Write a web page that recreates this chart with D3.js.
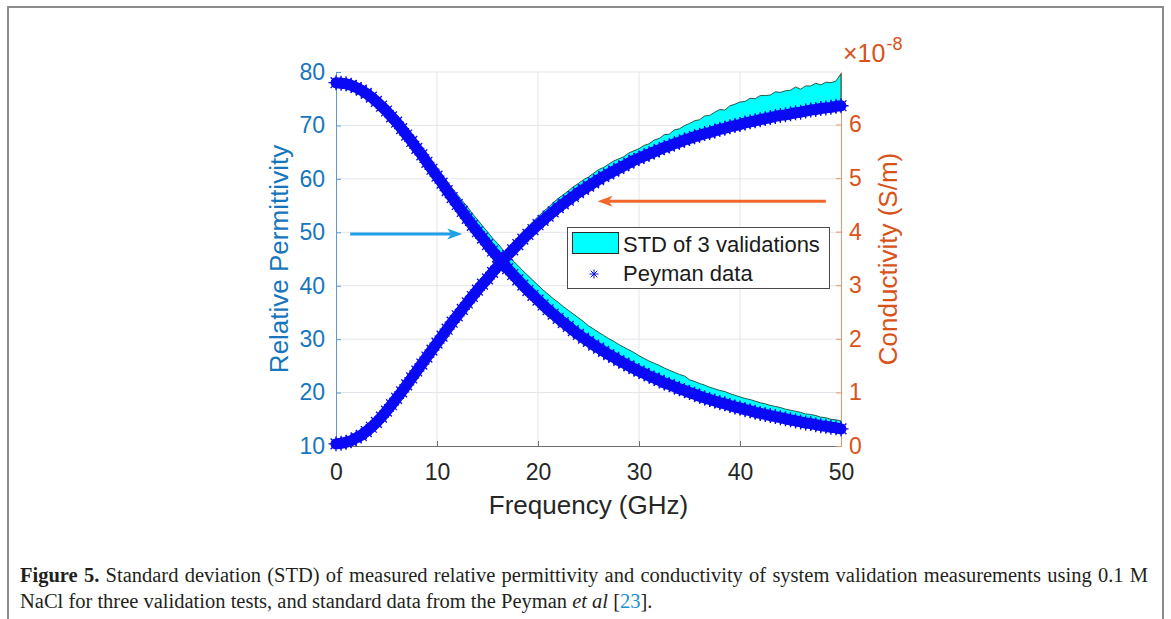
<!DOCTYPE html>
<html>
<head>
<meta charset="utf-8">
<script src="https://cdn.jsdelivr.net/npm/d3@7"></script>
<style>
  body { margin: 0; background: #fff; }
  svg { display: block; font-family: "Liberation Sans", Arial, Helvetica, sans-serif; }
</style>
</head>
<body>
<svg id="chart" width="1171" height="619"></svg>
<script>
// frequency grid (GHz)
const freq = [
  0, 0.5, 1, 1.5, 2, 2.5, 3, 3.5, 4, 4.5,
  5, 5.5, 6, 6.5, 7, 7.5, 8, 8.5, 9, 9.5,
  10, 10.5, 11, 11.5, 12, 12.5, 13, 13.5, 14, 14.5,
  15, 15.5, 16, 16.5, 17, 17.5, 18, 18.5, 19, 19.5,
  20, 20.5, 21, 21.5, 22, 22.5, 23, 23.5, 24, 24.5,
  25, 25.5, 26, 26.5, 27, 27.5, 28, 28.5, 29, 29.5,
  30, 30.5, 31, 31.5, 32, 32.5, 33, 33.5, 34, 34.5,
  35, 35.5, 36, 36.5, 37, 37.5, 38, 38.5, 39, 39.5,
  40, 40.5, 41, 41.5, 42, 42.5, 43, 43.5, 44, 44.5,
  45, 45.5, 46, 46.5, 47, 47.5, 48, 48.5, 49, 49.5,
  50
];

// Peyman data - relative permittivity (left axis)
const permPeyman = [
  78.0, 77.9, 77.8, 77.5, 77.1, 76.6, 76.0, 75.3, 74.5, 73.6,
  72.7, 71.6, 70.6, 69.4, 68.2, 67.0, 65.7, 64.5, 63.1, 61.8,
  60.5, 59.2, 57.8, 56.5, 55.2, 53.9, 52.6, 51.3, 50.1, 48.9,
  47.7, 46.5, 45.4, 44.3, 43.2, 42.1, 41.1, 40.1, 39.1, 38.2,
  37.3, 36.4, 35.5, 34.7, 33.9, 33.1, 32.4, 31.6, 30.9, 30.2,
  29.6, 28.9, 28.3, 27.7, 27.1, 26.6, 26.0, 25.5, 25.0, 24.5,
  24.0, 23.6, 23.1, 22.7, 22.3, 21.8, 21.5, 21.1, 20.7, 20.4,
  20.0, 19.7, 19.3, 19.0, 18.7, 18.4, 18.1, 17.9, 17.6, 17.3,
  17.1, 16.8, 16.6, 16.3, 16.1, 15.9, 15.7, 15.5, 15.3, 15.1,
  14.9, 14.7, 14.5, 14.3, 14.2, 14.0, 13.8, 13.7, 13.5, 13.4,
  13.2
];

// STD band of 3 validations - permittivity
const permStdLow = [
  77.6, 77.5, 77.4, 77.1, 76.7, 76.2, 75.6, 74.9, 74.1, 73.2,
  72.3, 71.2, 70.2, 69.0, 67.8, 66.6, 65.3, 64.1, 62.7, 61.4,
  60.1, 58.8, 57.4, 56.1, 54.8, 53.5, 52.2, 50.9, 49.7, 48.5,
  47.3, 46.1, 45.0, 43.9, 42.8, 41.7, 40.7, 39.7, 38.7, 37.8,
  36.9, 36.0, 35.1, 34.3, 33.5, 32.7, 32.0, 31.2, 30.5, 29.8,
  29.2, 28.5, 27.9, 27.3, 26.7, 26.2, 25.6, 25.1, 24.6, 24.1,
  23.6, 23.2, 22.7, 22.3, 21.9, 21.4, 21.1, 20.7, 20.3, 20.0,
  19.6, 19.3, 18.9, 18.6, 18.3, 18.0, 17.7, 17.5, 17.2, 16.9,
  16.7, 16.4, 16.2, 15.9, 15.7, 15.5, 15.3, 15.1, 14.9, 14.7,
  14.5, 14.3, 14.1, 13.9, 13.8, 13.6, 13.4, 13.3, 13.1, 13.0,
  12.8
];
const permStdHigh = [
  78.3, 78.2, 78.0, 77.7, 77.3, 76.8, 76.3, 75.6, 74.9, 74.0,
  73.2, 72.1, 71.2, 70.0, 68.9, 67.8, 66.6, 65.4, 64.1, 62.9,
  61.9, 60.8, 59.5, 58.3, 57.1, 55.9, 54.8, 53.5, 52.4, 51.2,
  50.1, 48.9, 47.9, 46.8, 45.8, 44.7, 43.8, 42.8, 41.9, 41.0,
  40.1, 39.2, 38.4, 37.6, 36.9, 36.1, 35.4, 34.7, 34.0, 33.3,
  32.5, 31.9, 31.3, 30.7, 30.1, 29.6, 29.0, 28.5, 28.0, 27.5,
  26.9, 26.4, 25.9, 25.5, 25.1, 24.6, 24.2, 23.8, 23.4, 23.1,
  22.4, 22.1, 21.7, 21.4, 21.0, 20.7, 20.4, 20.2, 19.8, 19.5,
  19.2, 18.9, 18.7, 18.4, 18.1, 17.9, 17.6, 17.4, 17.2, 16.9,
  16.7, 16.5, 16.3, 16.0, 15.9, 15.7, 15.4, 15.3, 15.0, 14.9,
  14.7
];

// Peyman data - conductivity (right axis, x1e-8 S/m)
const condPeyman = [
  0.04, 0.05, 0.07, 0.10, 0.15, 0.20, 0.27, 0.35, 0.44, 0.54,
  0.65, 0.77, 0.89, 1.01, 1.14, 1.27, 1.40, 1.53, 1.66, 1.79,
  1.92, 2.05, 2.18, 2.31, 2.43, 2.55, 2.67, 2.79, 2.91, 3.02,
  3.12, 3.24, 3.35, 3.46, 3.56, 3.66, 3.76, 3.86, 3.95, 4.04,
  4.13, 4.21, 4.29, 4.37, 4.45, 4.52, 4.59, 4.66, 4.73, 4.79,
  4.85, 4.91, 4.97, 5.03, 5.08, 5.13, 5.18, 5.23, 5.28, 5.33,
  5.37, 5.41, 5.45, 5.49, 5.53, 5.57, 5.60, 5.64, 5.67, 5.71,
  5.74, 5.77, 5.80, 5.83, 5.85, 5.88, 5.91, 5.93, 5.96, 5.98,
  6.00, 6.03, 6.05, 6.07, 6.09, 6.11, 6.13, 6.15, 6.17, 6.18,
  6.20, 6.22, 6.23, 6.25, 6.27, 6.28, 6.30, 6.31, 6.32, 6.34,
  6.35
];

// STD band of 3 validations - conductivity
const condStdLow = [
  0.00, 0.00, 0.02, 0.05, 0.10, 0.15, 0.22, 0.30, 0.39, 0.49,
  0.60, 0.72, 0.84, 0.96, 1.09, 1.22, 1.35, 1.48, 1.61, 1.74,
  1.87, 2.00, 2.13, 2.26, 2.38, 2.50, 2.62, 2.74, 2.86, 2.97,
  3.07, 3.19, 3.30, 3.41, 3.51, 3.61, 3.71, 3.81, 3.90, 3.99,
  4.08, 4.16, 4.24, 4.32, 4.40, 4.47, 4.54, 4.61, 4.68, 4.74,
  4.80, 4.86, 4.92, 4.98, 5.03, 5.08, 5.13, 5.18, 5.23, 5.28,
  5.32, 5.36, 5.40, 5.44, 5.48, 5.52, 5.55, 5.59, 5.62, 5.66,
  5.69, 5.72, 5.75, 5.78, 5.80, 5.83, 5.86, 5.88, 5.91, 5.93,
  5.95, 5.98, 6.00, 6.02, 6.04, 6.06, 6.08, 6.10, 6.12, 6.13,
  6.15, 6.17, 6.18, 6.20, 6.22, 6.23, 6.25, 6.26, 6.27, 6.29,
  6.30
];
const condStdHigh = [
  0.10, 0.11, 0.13, 0.16, 0.21, 0.26, 0.33, 0.41, 0.50, 0.60,
  0.72, 0.84, 0.96, 1.08, 1.21, 1.34, 1.47, 1.60, 1.73, 1.86,
  2.00, 2.13, 2.26, 2.39, 2.51, 2.63, 2.75, 2.87, 2.99, 3.10,
  3.22, 3.34, 3.46, 3.57, 3.68, 3.78, 3.89, 4.00, 4.09, 4.19,
  4.28, 4.37, 4.45, 4.54, 4.62, 4.69, 4.76, 4.84, 4.90, 4.97,
  5.02, 5.09, 5.16, 5.20, 5.26, 5.32, 5.36, 5.40, 5.47, 5.51,
  5.55, 5.61, 5.64, 5.71, 5.74, 5.81, 5.82, 5.90, 5.92, 5.98,
  6.02, 6.07, 6.09, 6.16, 6.17, 6.23, 6.28, 6.27, 6.35, 6.38,
  6.42, 6.43, 6.49, 6.48, 6.54, 6.54, 6.55, 6.61, 6.60, 6.63,
  6.64, 6.70, 6.66, 6.72, 6.72, 6.77, 6.74, 6.79, 6.78, 6.81,
  6.95
];

// tick values
const xTicks = [0, 10, 20, 30, 40, 50];
const leftTicks = [10, 20, 30, 40, 50, 60, 70, 80];
const rightTicks = [0, 1, 2, 3, 4, 5, 6];

// annotation arrows (in data units)
const blueArrow = {y: 49.7, from: 1.4, to: 12.5};
const orangeArrow = {y: 4.57, from: 48.5, to: 25.9};

const svg = d3.select("#chart");
const plot = {left: 336, right: 841, top: 72, bottom: 446};

const leftColor = "#1676bd";
const rightColor = "#d95319";
const axisGray = "#262626";

const x = d3.scaleLinear().domain([0, 50]).range([plot.left, plot.right]);
const yL = d3.scaleLinear().domain([10, 80]).range([plot.bottom, plot.top]);
const yR = d3.scaleLinear().domain([0, 6.98]).range([plot.bottom, plot.top]);

// outer frame of the figure
svg.append("rect")
    .attr("x", 8).attr("y", 7)
    .attr("width", 1155).attr("height", 700)
    .attr("fill", "none")
    .attr("stroke", "#8c8c8c")
    .attr("stroke-width", 2);

// grid
const grid = svg.append("g").attr("stroke", "#e2e5ea").attr("stroke-width", 1);
grid.selectAll(".gx").data(xTicks.slice(1, -1)).enter().append("line")
    .attr("x1", d => x(d)).attr("x2", d => x(d))
    .attr("y1", plot.top).attr("y2", plot.bottom);
grid.selectAll(".gy").data(leftTicks.slice(1)).enter().append("line")
    .attr("x1", plot.left).attr("x2", plot.right)
    .attr("y1", d => yL(d)).attr("y2", d => yL(d));

// axes
const fontTick = "23px";
const fmt = d3.format("d");
const xAxis = svg.append("g")
    .attr("transform", `translate(0,${plot.bottom})`)
    .call(d3.axisBottom(x).tickValues(xTicks).tickFormat(fmt).tickSizeInner(-5).tickSizeOuter(0).tickPadding(18));
xAxis.select(".domain").attr("stroke", "#6e6e6e");
xAxis.selectAll(".tick line").attr("stroke", "#6e6e6e");
xAxis.selectAll("text").attr("fill", axisGray).style("font-size", fontTick)
    .style("font-family", "'Liberation Sans', Arial, sans-serif");

const lAxis = svg.append("g")
    .attr("transform", `translate(${plot.left},0)`)
    .call(d3.axisLeft(yL).tickValues(leftTicks).tickFormat(fmt).tickSizeInner(-5).tickSizeOuter(0).tickPadding(11));
lAxis.select(".domain").attr("stroke", "#5b9bd0");
lAxis.selectAll(".tick line").attr("stroke", "#5b9bd0");
lAxis.selectAll("text").attr("fill", leftColor).style("font-size", fontTick)
    .style("font-family", "'Liberation Sans', Arial, sans-serif");

const rAxis = svg.append("g")
    .attr("transform", `translate(${plot.right},0)`)
    .call(d3.axisRight(yR).tickValues(rightTicks).tickFormat(fmt).tickSizeInner(-5).tickSizeOuter(0).tickPadding(8));
rAxis.select(".domain").attr("stroke", "#e8956b");
rAxis.selectAll(".tick line").attr("stroke", "#e8956b");
rAxis.selectAll("text").attr("fill", rightColor).style("font-size", fontTick)
    .style("font-family", "'Liberation Sans', Arial, sans-serif");

// axis titles
svg.append("text")
    .attr("x", (plot.left + plot.right) / 2).attr("y", 514)
    .attr("text-anchor", "middle")
    .attr("fill", axisGray)
    .style("font-size", "26px")
    .text("Frequency (GHz)");

svg.append("text")
    .attr("transform", `translate(288,${(plot.top + plot.bottom) / 2}) rotate(-90)`)
    .attr("text-anchor", "middle")
    .attr("fill", leftColor)
    .style("font-size", "26px")
    .text("Relative Permittivity");

svg.append("text")
    .attr("transform", `translate(897,${(plot.top + plot.bottom) / 2}) rotate(-90)`)
    .attr("text-anchor", "middle")
    .attr("fill", rightColor)
    .style("font-size", "26px")
    .text("Conductivity (S/m)");

const expo = svg.append("text")
    .attr("x", 843).attr("y", 62)
    .attr("fill", rightColor)
    .style("font-size", "25px");
expo.append("tspan").text("\u00d710");
expo.append("tspan").attr("dx", 1).attr("dy", -12).style("font-size", "18px").text("-8");

// STD bands
const idx = d3.range(freq.length);
const bandPerm = d3.area()
    .x(i => x(freq[i]))
    .y0(i => yL(permStdLow[i]))
    .y1(i => yL(permStdHigh[i]));
const bandCond = d3.area()
    .x(i => x(freq[i]))
    .y0(i => yR(condStdLow[i]))
    .y1(i => yR(condStdHigh[i]));

svg.append("path").datum(idx).attr("d", bandPerm)
    .attr("fill", "#00ffff").attr("stroke", "#10301f").attr("stroke-width", 0.8);
svg.append("path").datum(idx).attr("d", bandCond)
    .attr("fill", "#00ffff").attr("stroke", "#10301f").attr("stroke-width", 0.8);

// Peyman data as dense asterisk markers
const markerBlue = "#0a0af5";
function asterisk(r) {
    const k = r * 0.72;
    return `M${-r},0H${r}M0,${-r}V${r}M${-k},${-k}L${k},${k}M${-k},${k}L${k},${-k}`;
}

function drawPeyman(values, yScale) {
    const line = d3.line()
        .x(i => x(freq[i]))
        .y(i => yScale(values[i]));
    svg.append("path").datum(idx).attr("d", line)
        .attr("fill", "none")
        .attr("stroke", markerBlue)
        .attr("stroke-width", 11)
        .attr("stroke-linecap", "round")
        .attr("stroke-linejoin", "round");
    svg.append("g").selectAll("path").data(idx).enter().append("path")
        .attr("transform", i => `translate(${x(freq[i])},${yScale(values[i])})`)
        .attr("d", asterisk(7.5))
        .attr("fill", "none")
        .attr("stroke", markerBlue)
        .attr("stroke-width", 1.3);
}
drawPeyman(permPeyman, yL);
drawPeyman(condPeyman, yR);

// legend
const legend = svg.append("g");
legend.append("rect")
    .attr("x", 567.5).attr("y", 227.5)
    .attr("width", 262).attr("height", 61)
    .attr("fill", "#fff").attr("stroke", "#4a4a4a").attr("stroke-width", 1);
legend.append("rect")
    .attr("x", 572.5).attr("y", 232.5)
    .attr("width", 46).attr("height", 21)
    .attr("fill", "#00ffff").attr("stroke", "#2a2a2a").attr("stroke-width", 1);
legend.append("path")
    .attr("transform", "translate(594,274)")
    .attr("d", asterisk(4.5))
    .attr("fill", "none").attr("stroke", markerBlue).attr("stroke-width", 1);
legend.append("text").attr("x", 623).attr("y", 252)
    .attr("fill", "#1a1a1a").style("font-size", "22px").text("STD of 3 validations");
legend.append("text").attr("x", 623).attr("y", 281)
    .attr("fill", "#1a1a1a").style("font-size", "22px").text("Peyman data");

// arrows
function arrow(a, yScale, color) {
    const x1 = x(a.from), x2 = x(a.to), yy = yScale(a.y);
    const dir = Math.sign(x2 - x1);
    const headLen = 15, headW = 5.5, notch = 4;
    svg.append("line")
        .attr("x1", x1).attr("x2", x2 - dir * (headLen - notch))
        .attr("y1", yy).attr("y2", yy)
        .attr("stroke", color).attr("stroke-width", 3);
    svg.append("path")
        .attr("d", `M${x2},${yy}L${x2 - dir * headLen},${yy - headW}L${x2 - dir * (headLen - notch)},${yy}L${x2 - dir * headLen},${yy + headW}Z`)
        .attr("fill", color);
}
arrow(blueArrow, yL, "#1e9fe8");
arrow(orangeArrow, yR, "#f2662c");

// caption
const cap = svg.append("g")
    .style("font-family", "'Liberation Serif', 'Times New Roman', serif")
    .style("font-size", "20.5px")
    .attr("fill", "#231f20");

const line1 = cap.append("text").attr("x", 20).attr("y", 582);
line1.append("tspan").style("font-weight", "bold").text("Figure 5.");
line1.append("tspan").text(" Standard deviation (STD) of measured relative permittivity and conductivity of system validation measurements using 0.1 M");
const natural = line1.node().getComputedTextLength();
const nSpaces = line1.text().split(" ").length - 1;
line1.attr("word-spacing", (1148 - 20 - natural) / nSpaces);

const line2 = cap.append("text").attr("x", 20).attr("y", 608);
line2.append("tspan").text("NaCl for three validation tests, and standard data from the Peyman ");
line2.append("tspan").style("font-style", "italic").text("et al");
line2.append("tspan").text(" [");
line2.append("tspan").attr("fill", "#1a8fd0").text("23");
line2.append("tspan").text("].");
</script>
</body>
</html>
